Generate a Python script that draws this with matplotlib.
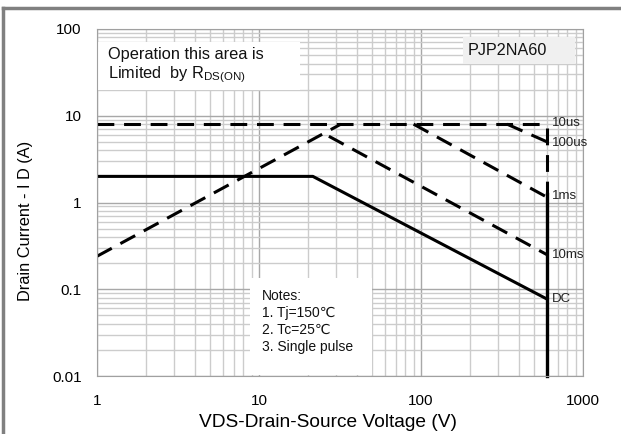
import matplotlib
matplotlib.use("Agg")
import matplotlib.pyplot as plt
from matplotlib.lines import Line2D
from matplotlib.patches import Rectangle
from matplotlib.ticker import LogLocator, NullFormatter, FixedLocator, FixedFormatter

plt.rcParams["font.family"] = ["Liberation Sans", "DejaVu Sans"]

# Safe operating area curves (VDS in V, ID in A)
rds_v = [1, 32]
rds_i = [0.24, 8.0]

us10_v = [1, 600]
us10_i = [8.0, 8.0]

us100_v = [340, 600]
us100_i = [8.0, 5.0]

ms1_v = [90, 600]
ms1_i = [8.0, 1.15]

ms10_v = [27, 600]
ms10_i = [5.8, 0.25]

dc_v = [1, 21.5, 600]
dc_i = [2.0, 2.0, 0.077]

vert_dash_i = [7.2, 1.25]
vert_solid_i = [1.25, 0.01]
v_limit = 600

curve_labels = ["10us", "100us", "1ms", "10ms", "DC"]
curve_label_i = [8.2, 4.9, 1.18, 0.25, 0.078]

x_ticks = [1, 10, 100, 1000]
x_labels = ["1", "10", "100", "1000"]
y_ticks = [0.01, 0.1, 1, 10, 100]
y_labels = ["0.01", "0.1", "1", "10", "100"]

fig = plt.figure(figsize=(6.21, 4.34), dpi=100)
ax = fig.add_axes([97 / 621, 1 - 376 / 434, 486 / 621, 347 / 434])

ax.set_xscale("log")
ax.set_yscale("log")
ax.set_xlim(1, 1000)
ax.set_ylim(0.01, 100)

ax.xaxis.set_major_locator(FixedLocator(x_ticks))
ax.xaxis.set_major_formatter(FixedFormatter(x_labels))
ax.yaxis.set_major_locator(FixedLocator(y_ticks))
ax.yaxis.set_major_formatter(FixedFormatter(y_labels))
ax.xaxis.set_minor_locator(LogLocator(base=10, subs=range(2, 10)))
ax.yaxis.set_minor_locator(LogLocator(base=10, subs=range(2, 10)))
ax.xaxis.set_minor_formatter(NullFormatter())
ax.yaxis.set_minor_formatter(NullFormatter())

ax.grid(True, which="major", color="#a8a8a8", linewidth=1.0)
ax.grid(True, which="minor", color="#cccccc", linewidth=1.0)
ax.set_axisbelow(True)
ax.tick_params(which="both", length=0, labelsize=11)
ax.tick_params(axis="x", pad=13)
ax.tick_params(axis="y", pad=11)
for sp in ax.spines.values():
    sp.set_color("#a0a0a0")

# text boxes sit above the grid but below the curves
ax.add_patch(Rectangle((0, 0.824), 0.418, 0.1385, transform=ax.transAxes,
                       facecolor="white", edgecolor="none", zorder=1.5))
ax.add_patch(Rectangle((0.753, 0.899), 0.231, 0.078, transform=ax.transAxes,
                       facecolor="#f0f0f0", edgecolor="none", zorder=1.5))
ax.add_patch(Rectangle((0.315, 0.002), 0.251, 0.28, transform=ax.transAxes,
                       facecolor="white", edgecolor="none", zorder=1.5))

dash = (0, (5.5, 3.2))
ax.plot(us10_v, us10_i, color="black", lw=2.2, linestyle=dash)
ax.plot(rds_v, rds_i, color="black", lw=2.2, linestyle=dash)
ax.plot(us100_v, us100_i, color="black", lw=2.2, linestyle=dash)
ax.plot(ms1_v, ms1_i, color="black", lw=2.2, linestyle=dash)
ax.plot(ms10_v, ms10_i, color="black", lw=2.2, linestyle=dash)
ax.plot([v_limit, v_limit], vert_dash_i, color="black", lw=2.2, linestyle=dash)
ax.plot([v_limit, v_limit], vert_solid_i, color="black", lw=2.4, clip_on=False)
ax.plot(dc_v, dc_i, color="black", lw=2.2)

for txt, yi in zip(curve_labels, curve_label_i):
    ax.text(640, yi, txt, fontsize=9.5, color="#222222", ha="left", va="center")

ax.text(0.023, 0.893, "Operation this area is\nLimited  by R$_{\\mathregular{DS(ON)}}$",
        transform=ax.transAxes, fontsize=11.8, color="#111111", ha="left", va="center",
        linespacing=1.2, zorder=2)

ax.text(0.763, 0.938, "PJP2NA60", transform=ax.transAxes, fontsize=11.6,
        color="#111111", ha="left", va="center", zorder=2)

ax.text(0.339, 0.252, "Notes:\n1. Tj=150\u2103\n2. Tc=25\u2103\n3. Single pulse",
        transform=ax.transAxes, fontsize=10, color="#111111", ha="left", va="top",
        linespacing=1.3, zorder=2)

ax.set_xlabel("VDS-Drain-Source Voltage (V)", fontsize=13.8)
ax.xaxis.label.set_va("center")
ax.xaxis.set_label_coords(0.475, -0.133)
ax.set_ylabel("Drain Current - I D (A)", fontsize=11.8)
ax.yaxis.label.set_va("center")
ax.yaxis.set_label_coords(-0.148, 0.447)

# outer gray frame (top and left only)
fig.add_artist(Line2D([3 / 621, 1], [1 - 8 / 434, 1 - 8 / 434], color="#808080", lw=2.5,
                      transform=fig.transFigure))
fig.add_artist(Line2D([3 / 621, 3 / 621], [0, 1 - 8 / 434], color="#808080", lw=2.5,
                      transform=fig.transFigure))

fig.savefig("out.png", dpi=100)
